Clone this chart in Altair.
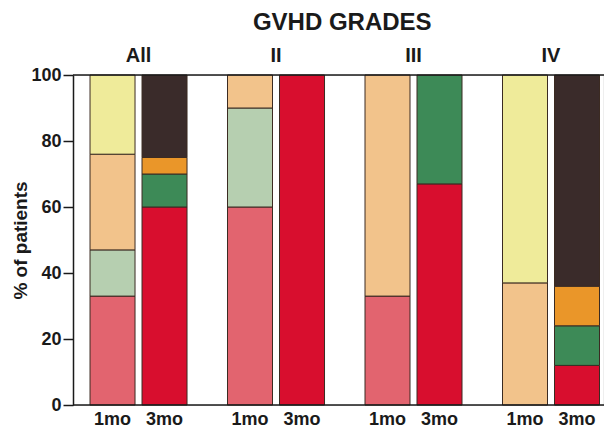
import altair as alt
import pandas as pd

groups = ["All", "II", "III", "IV"]
months = ["1mo", "3mo"]
cats = ["A", "B", "C", "D"]

# percentages per category (bottom to top), per group
a_1mo = [33, 60, 33, 0]
a_3mo = [60, 100, 67, 12]
b_1mo = [14, 30, 0, 0]
b_3mo = [10, 0, 33, 12]
c_1mo = [29, 10, 67, 37]
c_3mo = [5, 0, 0, 12]
d_1mo = [24, 0, 0, 63]
d_3mo = [25, 0, 0, 64]

series = {
    ("A", "1mo"): a_1mo, ("A", "3mo"): a_3mo,
    ("B", "1mo"): b_1mo, ("B", "3mo"): b_3mo,
    ("C", "1mo"): c_1mo, ("C", "3mo"): c_3mo,
    ("D", "1mo"): d_1mo, ("D", "3mo"): d_3mo,
}

color_keys = ["A1mo", "A3mo", "B1mo", "B3mo", "C1mo", "C3mo", "D1mo", "D3mo"]
color_vals = ["#e2646f", "#d80e2e", "#b6cfb0", "#3d8a57",
              "#f2c38b", "#ea9629", "#efeb9a", "#3a2b2a"]

rows = []
for (c, m), vals in series.items():
    for g, v in zip(groups, vals):
        if v > 0:
            rows.append({"group": g, "month": m, "cat": c,
                         "ci": cats.index(c), "key": c + m, "pct": v})
df = pd.DataFrame(rows)
lab = pd.DataFrame([{"group": g, "month": m} for g in groups for m in months])
lines = pd.DataFrame({"pct": [0, 100]})

W = 530.5
H = 330
FONT = "Liberation Sans"
INK = "#1a1a1a"

xscale = alt.Scale(domain=groups, paddingInner=0.2945, paddingOuter=0.0764, align=0.81)
xoff = alt.Scale(domain=months, paddingInner=0.1346, paddingOuter=0)
yscale = alt.Scale(domain=[0, 100], nice=False)
yaxis = alt.Axis(values=[0, 20, 40, 60, 80, 100], grid=False, tickSize=10,
                 tickColor=INK, tickWidth=1.5, domainColor=INK, domainWidth=1.5,
                 labelFontSize=18, labelFontWeight="bold", labelFont=FONT,
                 labelColor=INK, labelPadding=2,
                 title="% of patients", titleFontSize=19, titleFontWeight="bold",
                 titleFont=FONT, titleColor=INK, titleX=-53, titleY=H / 2,
                 titleAlign="center", titleBaseline="middle", titleAngle=270)

bars = alt.Chart(df).mark_bar(stroke="#3b2b22", strokeWidth=1).encode(
    x=alt.X("group:N", sort=groups, scale=xscale,
            axis=alt.Axis(orient="top", title=None, ticks=False, tickSize=0, domain=False,
                          labelFontSize=20, labelFontWeight="bold", labelFont=FONT,
                          labelColor=INK, labelPadding=14, labelBaseline="alphabetic",
                          labelAngle=0)),
    xOffset=alt.XOffset("month:N", sort=months, scale=xoff),
    y=alt.Y("pct:Q", stack="zero", scale=yscale, axis=yaxis),
    color=alt.Color("key:N", scale=alt.Scale(domain=color_keys, range=color_vals), legend=None),
    order=alt.Order("ci:Q", sort="ascending"),
)

month_text = alt.Chart(lab).mark_text(fontSize=18, fontWeight="bold", font=FONT,
                                      color=INK, baseline="alphabetic").encode(
    x=alt.X("group:N", sort=groups, scale=xscale),
    xOffset=alt.XOffset("month:N", sort=months, scale=xoff),
    y=alt.value(H + 20),
    text="month:N",
)

frame = alt.Chart(lines).mark_rule(color=INK, strokeWidth=1.5).encode(
    y=alt.Y("pct:Q", scale=yscale, axis=yaxis),
    x=alt.value(0),
    x2=alt.value(W + 20),
)

chart = alt.layer(bars, frame, month_text).properties(
    width=W, height=H,
    autosize=alt.AutoSizeParams(type="none"),
    padding={"left": 65, "top": 67, "right": 0.5, "bottom": 24},
    title=alt.TitleParams("GVHD GRADES", fontSize=24, fontWeight="bold", font=FONT,
                          color=INK, anchor="middle", frame="group", dx=4, offset=10),
).configure_view(stroke=None).configure(background="white")

chart.save("out.html", embed_options={"renderer": "svg", "actions": False})
